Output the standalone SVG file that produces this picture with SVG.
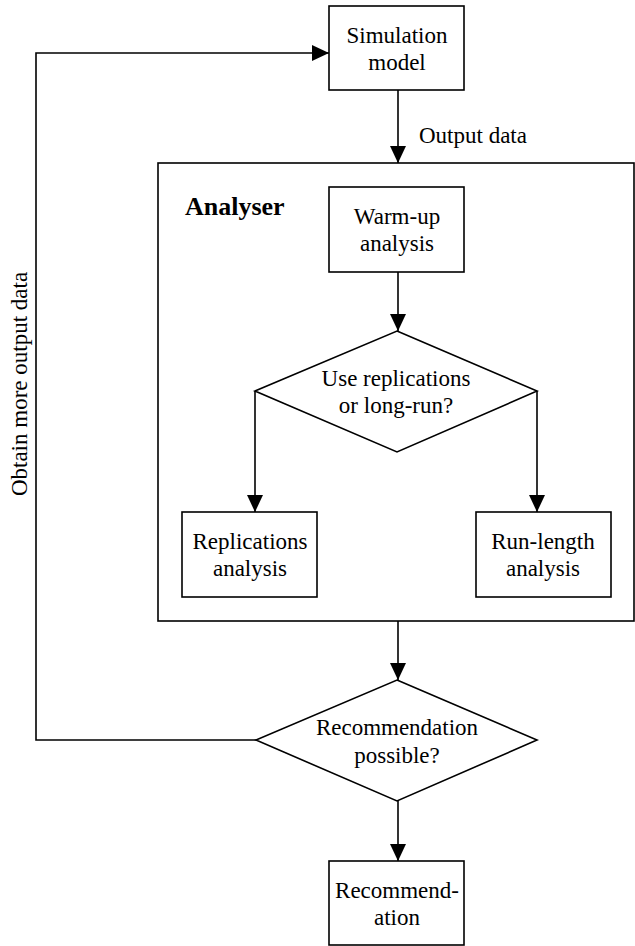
<svg xmlns="http://www.w3.org/2000/svg" width="635" height="946" viewBox="0 0 635 946">
<style>
.box{fill:#fff;stroke:#000;stroke-width:1.6}
.ln{fill:none;stroke:#000;stroke-width:1.6}
.t{font-family:"Liberation Serif","Times New Roman",serif;font-size:23px;fill:#000;text-anchor:middle}
.b{font-family:"Liberation Serif","Times New Roman",serif;font-size:26px;font-weight:bold;fill:#000}
</style>
<defs>
<marker id="ah" markerUnits="userSpaceOnUse" markerWidth="17" markerHeight="16" refX="17" refY="8" orient="auto">
<path d="M0,0 L17,8 L0,16 z" fill="#000"/>
</marker>
</defs>
<g id="analyser">
<rect class="box" x="158" y="163" width="476" height="458"/>
<text class="b" x="185" y="215">Analyser</text>
</g>
<g id="connectors">
<path class="ln" d="M256,740 H36 V53 H329" marker-end="url(#ah)"/>
<path class="ln" d="M398,90 V163" marker-end="url(#ah)"/>
<path class="ln" d="M398,272 V331" marker-end="url(#ah)"/>
<path class="ln" d="M255,391 V512" marker-end="url(#ah)"/>
<path class="ln" d="M537,391 V512" marker-end="url(#ah)"/>
<path class="ln" d="M398,621 V680" marker-end="url(#ah)"/>
<path class="ln" d="M398,801 V861" marker-end="url(#ah)"/>
<text class="t" x="419" y="143" style="text-anchor:start">Output data</text>
<text class="t" transform="translate(27,384) rotate(-90)">Obtain more output data</text>
</g>
<g id="simulation">
<rect class="box" x="329" y="6" width="135" height="84"/>
<text class="t" x="397" y="43">Simulation</text>
<text class="t" x="397" y="70">model</text>
</g>
<g id="warmup">
<rect class="box" x="329" y="187" width="135" height="85"/>
<text class="t" x="397" y="224">Warm-up</text>
<text class="t" x="397" y="251">analysis</text>
</g>
<g id="decision1">
<polygon class="box" points="397,331 537,391 397,452 255,391"/>
<text class="t" x="396" y="386">Use replications</text>
<text class="t" x="396" y="413">or long-run?</text>
</g>
<g id="replications">
<rect class="box" x="182" y="512" width="135" height="85"/>
<text class="t" x="250" y="549">Replications</text>
<text class="t" x="250" y="576">analysis</text>
</g>
<g id="runlength">
<rect class="box" x="476" y="512" width="135" height="85"/>
<text class="t" x="543" y="549">Run-length</text>
<text class="t" x="543" y="576">analysis</text>
</g>
<g id="decision2">
<polygon class="box" points="397,680 537,740 397,801 256,740"/>
<text class="t" x="397" y="735">Recommendation</text>
<text class="t" x="397" y="763">possible?</text>
</g>
<g id="recommendation">
<rect class="box" x="329" y="861" width="135" height="84"/>
<text class="t" x="397" y="898">Recommend-</text>
<text class="t" x="397" y="925">ation</text>
</g>
</svg>
